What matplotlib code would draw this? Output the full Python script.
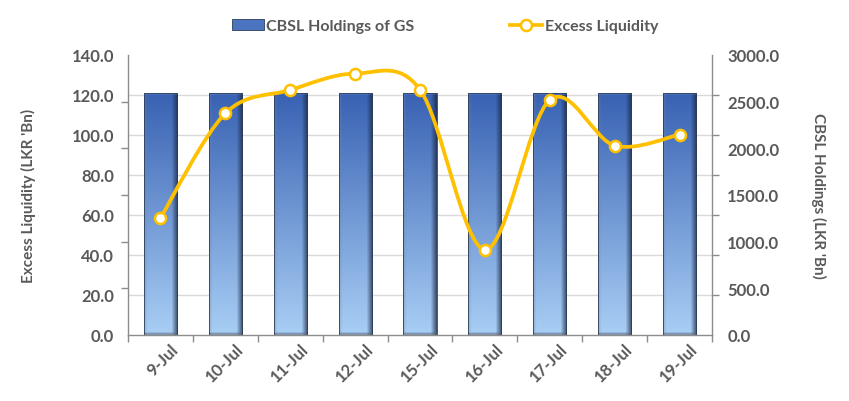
import numpy as np
import matplotlib
matplotlib.use("Agg")
import matplotlib.pyplot as plt
from matplotlib.path import Path
from matplotlib.patches import PathPatch, Patch
from matplotlib.lines import Line2D
from matplotlib.ticker import MultipleLocator, FixedLocator
import matplotlib.transforms as mtransforms

# Données
dates = ["9-Jul", "10-Jul", "11-Jul", "12-Jul", "15-Jul", "16-Jul", "17-Jul", "18-Jul", "19-Jul"]
cbsl_holdings = [2593, 2593, 2593, 2593, 2593, 2593, 2593, 2593, 2593]
excess_liquidity = [58.5, 110.8, 122.5, 130.7, 122.7, 42.7, 117.5, 94.7, 100.2]

gris = "#595959"
axe = "#8c8c8c"
or_ = "#FFC000"
plt.rcParams['font.family'] = ['Lato', 'DejaVu Sans']
plt.rcParams['font.weight'] = 'bold'

fig = plt.figure(figsize=(8.49, 4.02), dpi=100)
ax1 = fig.add_axes([128/849, 1-336/402, 584/849, 280/402])
ax2 = ax1.twinx()
ax1.set_zorder(2)
ax2.set_zorder(1)
ax1.patch.set_visible(False)
ax2.patch.set_visible(True)
ax2.patch.set_facecolor("white")

x = np.arange(len(dates))

# Barres (axe droit) avec dégradé
bars = ax2.bar(x, cbsl_holdings, width=0.51, color="none", edgecolor="#2d3d55", linewidth=0.6, zorder=3)
nv, nh = 200, 40
t = np.linspace(0, 1, nv)[:, None, None]
u = np.linspace(0, 1, nh)[None, :, None]
haut = np.array([0.22, 0.38, 0.70])
bas = np.array([0.66, 0.81, 0.96])
grad = haut * (1 - t) + bas * t
grad = np.broadcast_to(grad, (nv, nh, 3)).copy()
droite = np.clip((u - 0.82) / 0.18, 0, 1) * 0.75
grad = grad * (1 - droite) + np.array([0.10, 0.15, 0.25]) * droite
gauche = np.clip((0.10 - u) / 0.10, 0, 1) * 0.35
grad = grad * (1 - gauche) + np.array([0.45, 0.52, 0.62]) * gauche
grad[:2] = grad[:2] * 0.6 + np.array([0.55, 0.70, 0.92]) * 0.4
grad[-2:] = grad[-2:] * 0.5 + np.array([0.35, 0.38, 0.45]) * 0.5
for b in bars:
    x0 = b.get_x()
    im = ax2.imshow(grad, extent=[x0, x0 + b.get_width(), 0, b.get_height()],
                    aspect='auto', origin='upper', zorder=2)
    im.set_clip_path(b)

# Ligne lissée (axe gauche), courbe de Bézier type Catmull-Rom
pts = np.column_stack([x, excess_liquidity]).astype(float)
verts = [pts[0]]
codes = [Path.MOVETO]
for i in range(len(pts) - 1):
    p0 = pts[i - 1] if i > 0 else pts[i]
    p1 = pts[i]
    p2 = pts[i + 1]
    p3 = pts[i + 2] if i + 2 < len(pts) else pts[i + 1]
    verts += [p1 + (p2 - p0) / 6, p2 - (p3 - p1) / 6, p2]
    codes += [Path.CURVE4] * 3
ax1.add_patch(PathPatch(Path(verts, codes), facecolor="none", edgecolor=or_,
                        linewidth=2.7, capstyle='round', joinstyle='round', zorder=3))
ax1.plot(x, excess_liquidity, linestyle="none", marker="o", markersize=8,
         markerfacecolor="white", markeredgecolor=or_, markeredgewidth=1.8, zorder=4)

# Axes
ax1.set_xlim(-0.5, len(dates) - 0.5)
ax1.set_ylim(0, 140)
ax2.set_ylim(0, 3000)

ax1.yaxis.set_major_locator(MultipleLocator(20))
ax1.yaxis.set_minor_locator(FixedLocator(np.linspace(0, 140, 7)))
ax2.yaxis.set_major_locator(MultipleLocator(500))
ax2.yaxis.set_minor_locator(FixedLocator(np.linspace(0, 3000, 8)))
ax1.yaxis.set_major_formatter(lambda v, p: f"{v:.1f}")
ax2.yaxis.set_major_formatter(lambda v, p: f"{v:.1f}")

ax2.grid(True, which='minor', axis='y', color="#d9d9d9", linewidth=1.0)
ax2.set_axisbelow(True)

ax1.tick_params(axis='y', which='major', length=0, pad=10, labelsize=12, labelcolor=gris)
ax1.tick_params(axis='y', which='minor', length=5, width=1, color=axe, direction='out')
ax2.tick_params(axis='y', which='major', length=0, pad=11, labelsize=12, labelcolor=gris)
ax2.tick_params(axis='y', which='minor', length=5, width=1, color=axe, direction='out')

ax1.set_xticks(np.arange(-0.5, len(dates), 1), minor=True)
ax1.set_xticks(x)
ax1.set_xticklabels(dates)
ax1.tick_params(axis='x', which='major', length=0, labelsize=12, labelcolor=gris, pad=4)
ax1.tick_params(axis='x', which='minor', length=5, width=1, color=axe, direction='out')
decal = mtransforms.ScaledTranslation(10/100, 0, fig.dpi_scale_trans)
for lab in ax1.get_xticklabels():
    lab.set_rotation(45)
    lab.set_ha('right')
    lab.set_va('top')
    lab.set_rotation_mode('anchor')
    lab.set_transform(lab.get_transform() + decal)

for a in (ax1, ax2):
    a.spines['top'].set_visible(False)
    for s in ('left', 'right', 'bottom'):
        a.spines[s].set_color(axe)
        a.spines[s].set_linewidth(1)
ax2.spines['left'].set_visible(False)
ax2.spines['bottom'].set_visible(False)
ax1.spines['right'].set_visible(False)

ax1.set_ylabel("Excess Liquidity (LKR 'Bn)", fontsize=11, color=gris, fontweight='bold', va='center')
ax2.set_ylabel("CBSL Holdings (LKR 'Bn)", fontsize=11, color=gris, fontweight='bold',
               rotation=270, va='center')
ax1.yaxis.set_label_coords((28 - 128) / 584, 0.5)
ax2.yaxis.set_label_coords((819 - 128) / 584, 0.5)

# Légende
poignees = [Patch(facecolor="#4a74c0", edgecolor="#2d3d55", linewidth=0.6),
            Line2D([0], [0], color=or_, linewidth=2.7, marker="o", markersize=8,
                   markerfacecolor="white", markeredgecolor=or_, markeredgewidth=1.8)]
fig.legend(poignees, ["CBSL Holdings of GS", "Excess Liquidity"], loc="center",
           bbox_to_anchor=(445/849, 1-27/402), ncol=2, frameon=False,
           prop={'size': 11.5, 'weight': 'bold'}, labelcolor=gris,
           handlelength=2.0, handletextpad=0.15, columnspacing=6.0)

fig.savefig("out.png", dpi=100, facecolor="white")
